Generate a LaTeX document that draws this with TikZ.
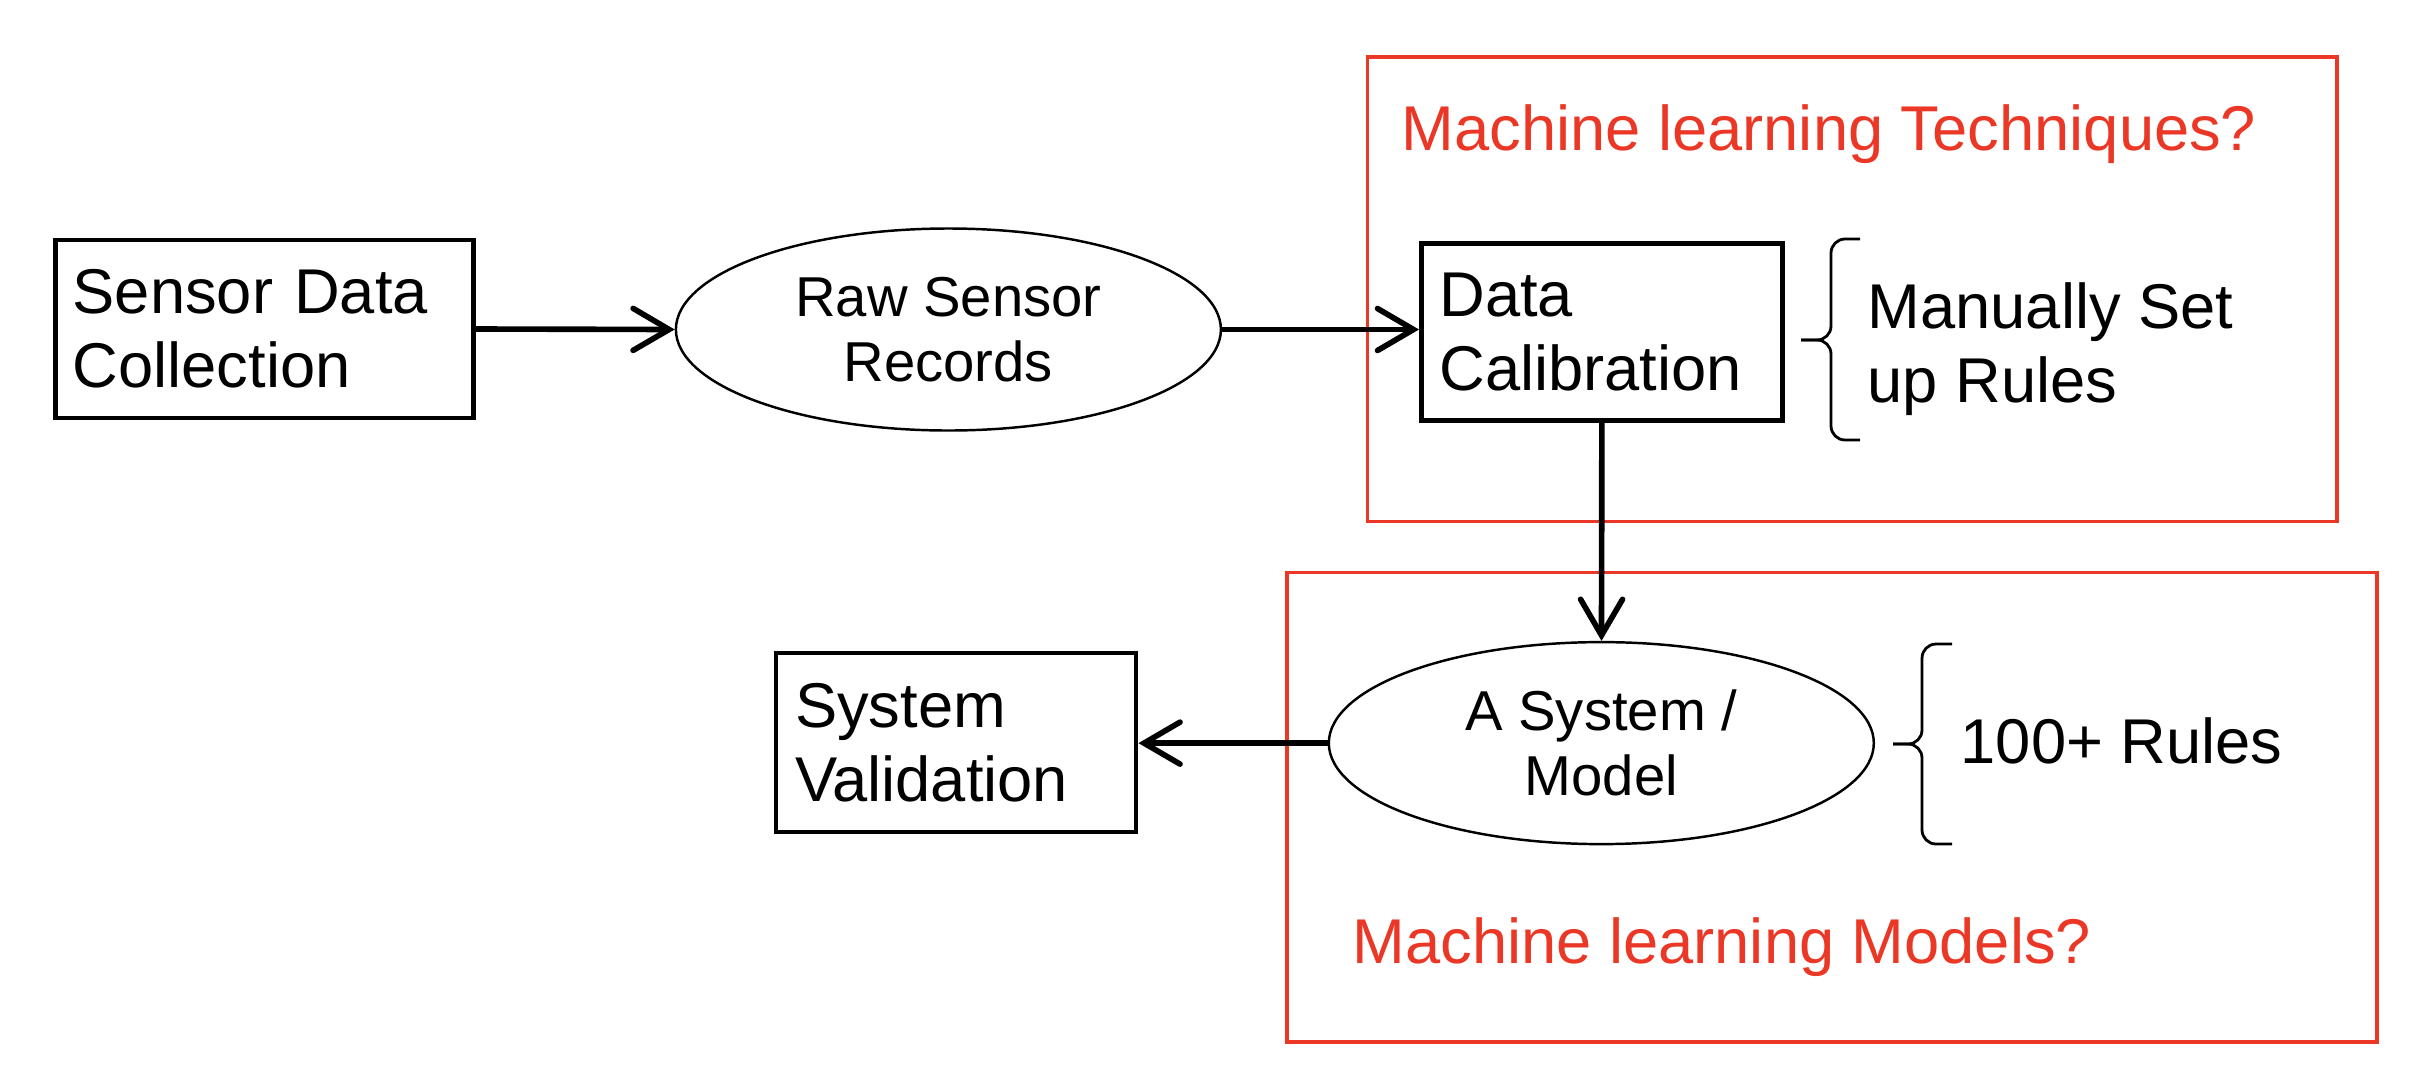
\documentclass[tikz,border=0pt]{standalone}
\usepackage{fontspec}
\setmainfont{Liberation Sans}
\usetikzlibrary{arrows.meta, shapes.geometric}
\definecolor{mlred}{RGB}{234,55,38}
\tikzset{stepbox/.style={draw, line width=1.4pt, align=left, font=\fontsize{18}{21}\selectfont},
  recnode/.style={ellipse, draw, line width=0.7pt, minimum width=5.45cm, minimum height=2.02cm, inner sep=0pt, align=center, font=\fontsize{16}{18.5}\selectfont},
  mlframe/.style={draw=mlred, line width=1pt},
  mltext/.style={text=mlred, font=\fontsize{18}{21}\selectfont, anchor=base west, inner sep=0pt},
  ruletext/.style={font=\fontsize{18}{21}\selectfont, anchor=west, align=left, inner sep=0pt},
  flow/.style={-{Straight Barb[length=3.6mm, width=4.2mm, line cap=round]}, line width=1.6pt},
  rulebrace/.style={line width=0.8pt, rounded corners=0.14cm}}

\begin{document}
\begin{tikzpicture}

\useasboundingbox (0,0) rectangle (24.2,-10.82);

  % frames

  \draw [style = mlframe] (13.675,-0.571) rectangle (23.367,-5.217);
  \draw [style = mlframe] (12.872,-5.726) rectangle (23.768,-10.418);
  \node [style = mltext] (tech) at (14.01,-1.50) {Machine learning Techniques?};
  \node [style = mltext] (models) at (13.52,-9.63) {Machine learning Models?};

  % nodes

  \node [style = stepbox, text width=3.84cm, inner xsep=0.17cm, minimum height=1.78cm] (sensor) at (2.647,-3.29) {Sensor Data\\Collection};
  \node [style = recnode] (raw) at (9.484,-3.295) {Raw Sensor\\Records};
  \node [style = stepbox, text width=3.25cm, inner xsep=0.18cm, minimum height=1.77cm] (calib) at (16.02,-3.32) {Data\\Calibration};
  \node [style = recnode] (model) at (16.013,-7.431) {A System /\\Model};
  \node [style = stepbox, text width=3.22cm, inner xsep=0.19cm, minimum height=1.79cm] (valid) at (9.56,-7.425) {System\\Validation};

  % rules

  \draw [style = rulebrace] (18.60,-2.39) -- (18.31,-2.39) -- (18.31,-3.40) -- (18.01,-3.40);
  \draw [style = rulebrace] (18.60,-4.40) -- (18.31,-4.40) -- (18.31,-3.40) -- (18.01,-3.40);
  \node [style = ruletext] (manual) at (18.67,-3.49) {Manually Set\\up Rules};
  \draw [style = rulebrace] (19.52,-6.44) -- (19.22,-6.44) -- (19.22,-7.44) -- (18.93,-7.44);
  \draw [style = rulebrace] (19.52,-8.44) -- (19.22,-8.44) -- (19.22,-7.44) -- (18.93,-7.44);
  \node [style = ruletext] (hundred) at (19.60,-7.41) {100+ Rules};

  %  edges
  \draw [style = flow] (sensor.east) to (raw.west);
  \draw [style = flow] (raw.east) to (raw.east -| calib.west);
  \draw [style = flow] (calib) to (model);
  \draw [style = flow] (model.west) to (model.west -| valid.east);

\end{tikzpicture}
\end{document}
